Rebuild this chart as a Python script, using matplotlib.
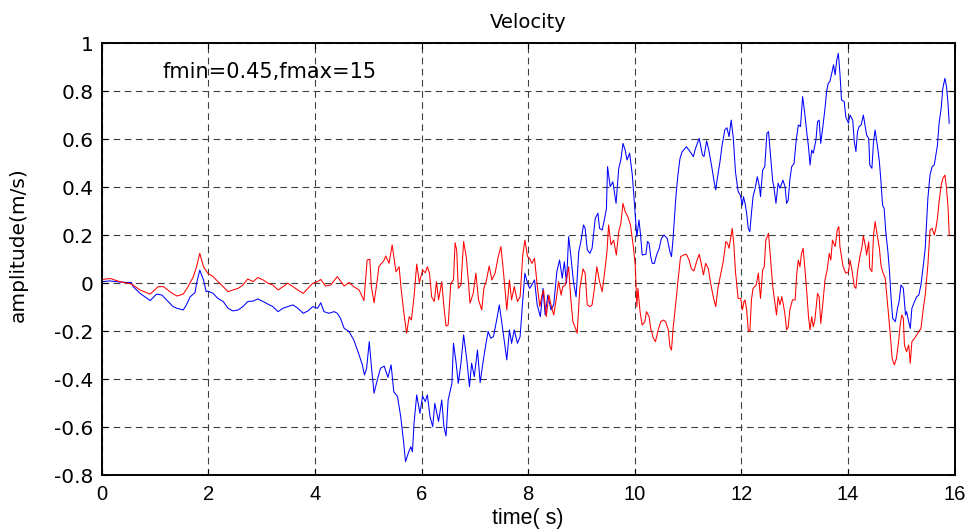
import matplotlib
matplotlib.use("Agg")
import matplotlib.pyplot as plt

# blue trace (time in s, amplitude in m/s)
t_blue = [0.0, 0.02, 0.15, 0.35, 0.56, 0.59, 0.72, 0.91, 1.03, 1.13, 1.22, 1.34, 1.41, 1.53, 1.59, 1.66, 1.75, 1.78, 1.84, 1.91, 1.96,
          1.99, 2.09, 2.18, 2.28, 2.37, 2.46, 2.56, 2.65, 2.74, 2.84, 2.93, 3.03, 3.12, 3.21, 3.31, 3.40, 3.49, 3.59, 3.68, 3.78, 3.87, 3.96,
          4.05, 4.11, 4.17, 4.26, 4.36, 4.42, 4.48, 4.55, 4.64, 4.73, 4.83, 4.89, 4.93, 4.97, 5.02, 5.06, 5.11, 5.17, 5.23, 5.30, 5.37, 5.43,
          5.48, 5.55, 5.61, 5.66, 5.70, 5.75, 5.80, 5.83, 5.86, 5.91, 5.97,
          6.02, 6.07, 6.11, 6.16, 6.21, 6.25, 6.32, 6.38, 6.42, 6.46, 6.50, 6.57, 6.60, 6.65, 6.69, 6.74, 6.79, 6.85, 6.90, 6.94, 6.99, 7.05,
          7.10, 7.16, 7.21, 7.25, 7.30, 7.35, 7.41, 7.46, 7.50, 7.55, 7.60, 7.65, 7.69, 7.74, 7.80, 7.85, 7.90, 7.94, 7.99,
          8.03, 8.07, 8.12, 8.17, 8.23, 8.28, 8.32, 8.37, 8.43, 8.48, 8.54, 8.59, 8.64, 8.68, 8.72, 8.76, 8.80, 8.85, 8.90, 8.95, 8.99, 9.04,
          9.07, 9.11, 9.16, 9.20, 9.26, 9.31, 9.34, 9.39, 9.43, 9.47, 9.49, 9.54, 9.59, 9.65, 9.70, 9.74, 9.78, 9.82, 9.855, 9.905, 9.955,
          9.99, 10.04,
          10.08, 10.11, 10.14, 10.21, 10.24, 10.27, 10.30, 10.33, 10.37, 10.41, 10.46, 10.50, 10.55, 10.61, 10.66, 10.69, 10.72, 10.77, 10.81,
          10.85, 10.89, 10.97, 11.04, 11.10, 11.14, 11.21, 11.24, 11.27, 11.30, 11.35, 11.39, 11.44, 11.49, 11.52, 11.55, 11.60, 11.64, 11.69,
          11.73, 11.77, 11.81, 11.85, 11.89, 11.94, 11.98, 12.02,
          12.04, 12.07, 12.10, 12.13, 12.16, 12.19, 12.22, 12.26, 12.30, 12.34, 12.36, 12.40, 12.44, 12.48, 12.51, 12.54, 12.59, 12.61, 12.65, 12.69,
          12.725, 12.78, 12.82, 12.85, 12.88, 12.91, 12.945, 12.99, 13.03, 13.07, 13.11, 13.15, 13.19, 13.23, 13.26, 13.29, 13.32, 13.35, 13.40,
          13.43, 13.46, 13.49, 13.53, 13.57, 13.60, 13.63, 13.66, 13.69, 13.73, 13.76, 13.79, 13.82, 13.85, 13.88, 13.93, 13.96, 14.01, 14.04,
          14.09, 14.12, 14.15, 14.18, 14.21, 14.25, 14.29, 14.33, 14.35, 14.39, 14.41, 14.45, 14.48, 14.51, 14.56, 14.59, 14.62, 14.65, 14.68,
          14.71, 14.75, 14.78, 14.81, 14.84, 14.89, 14.93, 14.96, 14.995, 15.04, 15.08, 15.10, 15.14, 15.17, 15.20, 15.25, 15.29, 15.33, 15.37,
          15.415, 15.45, 15.50, 15.54, 15.58, 15.62, 15.65, 15.68, 15.71, 15.75, 15.78, 15.82, 15.85, 15.88, 15.90]
v_blue = [0.01, 0.007, 0.01, 0.005, 0.003, -0.014, -0.042, -0.072, -0.045, -0.049, -0.07, -0.097, -0.104, -0.111, -0.09, -0.056, -0.039, 0.0, 0.055, 0.014, -0.035,
          -0.032, -0.042, -0.063, -0.076, -0.104, -0.115, -0.111, -0.097, -0.076, -0.074, -0.065, -0.076, -0.087, -0.097, -0.118, -0.104, -0.097, -0.09, -0.104, -0.125, -0.115, -0.097,
          -0.104, -0.081, -0.118, -0.125, -0.118, -0.125, -0.146, -0.188, -0.201, -0.236, -0.299, -0.340, -0.382, -0.354, -0.243, -0.347, -0.458, -0.403, -0.354, -0.345, -0.392, -0.340,
          -0.452, -0.472, -0.556, -0.653, -0.743, -0.709, -0.681, -0.702, -0.583, -0.465, -0.542,
          -0.47, -0.493, -0.465, -0.556, -0.597, -0.500, -0.576, -0.486, -0.597, -0.636, -0.486, -0.417, -0.250, -0.333, -0.417, -0.333, -0.215, -0.319, -0.431, -0.333, -0.389, -0.278,
          -0.414, -0.319, -0.250, -0.201, -0.229, -0.222, -0.153, -0.090, -0.153, -0.236, -0.319, -0.194, -0.250, -0.194, -0.250, -0.222, -0.069, 0.042, 0.0,
          -0.021, -0.007, 0.014, -0.090, -0.139, -0.021, -0.132, -0.049, -0.111, -0.090, 0.049, 0.097, 0.021, 0.090, 0.0, 0.194, 0.118, 0.007, -0.056, 0.132, 0.174, 0.243,
          0.229, 0.139, 0.125, 0.146, 0.271, 0.292, 0.229, 0.222, 0.264, 0.312, 0.486, 0.403, 0.423, 0.333, 0.479, 0.514, 0.583, 0.556, 0.514, 0.542, 0.451,
          0.347, 0.194,
          0.264, 0.201, 0.118, 0.121, 0.174, 0.167, 0.111, 0.083, 0.083, 0.118, 0.146, 0.187, 0.201, 0.187, 0.132, 0.111, 0.187, 0.354, 0.451,
          0.521, 0.548, 0.569, 0.548, 0.528, 0.562, 0.604, 0.569, 0.535, 0.528, 0.593, 0.555, 0.493, 0.423, 0.389, 0.437, 0.507, 0.576, 0.639,
          0.648, 0.611, 0.680, 0.604, 0.465, 0.382, 0.368, 0.326,
          0.361, 0.333, 0.292, 0.229, 0.215, 0.292, 0.361, 0.396, 0.444, 0.403, 0.361, 0.472, 0.486, 0.625, 0.632, 0.555, 0.424, 0.403, 0.333, 0.417,
          0.396, 0.430, 0.403, 0.333, 0.347, 0.430, 0.486, 0.500, 0.597, 0.660, 0.653, 0.778, 0.708, 0.625, 0.569, 0.493, 0.555, 0.542, 0.597,
          0.673, 0.680, 0.583, 0.653, 0.729, 0.799, 0.833, 0.840, 0.868, 0.910, 0.868, 0.930, 0.958, 0.875, 0.764, 0.757, 0.694, 0.667, 0.701,
          0.680, 0.590, 0.549, 0.632, 0.653, 0.660, 0.701, 0.646, 0.618, 0.604, 0.493, 0.479, 0.590, 0.639, 0.562, 0.507, 0.424, 0.326, 0.312,
          0.215, 0.132, 0.049, -0.063, -0.146, -0.160, -0.104, -0.076, -0.007, -0.021, -0.132, -0.118, -0.160, -0.188, -0.104, -0.076, -0.056, -0.049, -0.007,
          0.076, 0.146, 0.354, 0.451, 0.486, 0.493, 0.535, 0.576, 0.667, 0.729, 0.812, 0.854, 0.819, 0.743, 0.667]

# red trace
t_red = [0.0, 0.02, 0.16, 0.34, 0.56, 0.72, 0.91, 1.06, 1.16, 1.28, 1.41, 1.53, 1.62, 1.72, 1.78, 1.84, 1.91,
         1.99, 2.09, 2.18, 2.28, 2.37, 2.46, 2.56, 2.65, 2.74, 2.84, 2.93, 3.03, 3.12, 3.21, 3.31, 3.40, 3.49, 3.59, 3.68, 3.78, 3.87, 3.96,
         4.05, 4.11, 4.20, 4.30, 4.42, 4.55, 4.64, 4.73, 4.83, 4.92, 4.98, 5.03, 5.06, 5.11, 5.17, 5.20, 5.30, 5.33, 5.39, 5.45, 5.52, 5.58,
         5.62, 5.67, 5.72, 5.77, 5.81, 5.86, 5.91, 5.96,
         6.02, 6.07, 6.11, 6.15, 6.19, 6.24, 6.28, 6.32, 6.38, 6.42, 6.46, 6.50, 6.55, 6.60, 6.63, 6.66, 6.69, 6.74, 6.79, 6.84, 6.88, 6.91,
         6.97, 7.02, 7.07, 7.13, 7.17, 7.22, 7.27, 7.32, 7.38, 7.44, 7.49, 7.54, 7.60, 7.65, 7.69, 7.74, 7.80, 7.85, 7.90, 7.94, 7.99,
         8.03, 8.07, 8.12, 8.17, 8.22, 8.26, 8.29, 8.34, 8.39, 8.43, 8.48, 8.53, 8.57, 8.62, 8.65, 8.70, 8.76, 8.80, 8.84, 8.89, 8.92, 8.97,
         9.03, 9.07, 9.11, 9.16, 9.20, 9.24, 9.29, 9.34, 9.39, 9.43, 9.48, 9.51, 9.555, 9.605, 9.655, 9.70, 9.74, 9.78, 9.82, 9.87, 9.92,
         9.97, 10.01, 10.04,
         10.06, 10.10, 10.14, 10.19, 10.22, 10.27, 10.30, 10.35, 10.39, 10.44, 10.49, 10.54, 10.58, 10.63, 10.66, 10.69, 10.72, 10.77, 10.81,
         10.86, 10.92, 10.97, 11.02, 11.06, 11.11, 11.16, 11.21, 11.24, 11.29, 11.33, 11.38, 11.43, 11.48, 11.52, 11.56, 11.61, 11.66, 11.71,
         11.74, 11.77, 11.80, 11.83, 11.86, 11.89, 11.94, 11.99, 12.02, 12.05,
         12.07, 12.10, 12.13, 12.16, 12.19, 12.22, 12.28, 12.32, 12.36, 12.40, 12.43, 12.46, 12.51, 12.55, 12.59, 12.63, 12.66, 12.69, 12.725,
         12.76, 12.79, 12.82, 12.85, 12.88, 12.91, 12.96, 13.01, 13.04, 13.07, 13.10, 13.13, 13.16, 13.19, 13.23, 13.26, 13.29, 13.32, 13.35,
         13.38, 13.43, 13.46, 13.49, 13.53, 13.57, 13.61, 13.65, 13.68, 13.71, 13.76, 13.80, 13.83, 13.85, 13.88, 13.91, 13.96, 14.01, 14.04,
         14.08, 14.12, 14.15, 14.18, 14.23, 14.26, 14.29, 14.33, 14.35, 14.39, 14.41, 14.45, 14.48, 14.51, 14.56, 14.59, 14.62, 14.65, 14.70,
         14.75, 14.79, 14.83, 14.87, 14.91, 14.95, 14.98, 15.01, 15.04, 15.06, 15.10, 15.14, 15.17, 15.20, 15.25, 15.29, 15.33, 15.37, 15.415,
         15.45, 15.50, 15.54, 15.58, 15.62, 15.65, 15.68, 15.71, 15.75, 15.78, 15.82, 15.85, 15.88, 15.90]
v_red = [0.015, 0.016, 0.02, 0.007, -0.003, -0.028, -0.045, -0.014, -0.014, -0.035, -0.053, -0.045, -0.014, 0.028, 0.069, 0.125, 0.069,
         0.042, 0.028, 0.007, -0.014, -0.035, -0.028, -0.021, -0.007, 0.018, 0.007, 0.024, 0.014, 0.0, -0.007, -0.028, -0.014, 0.0, -0.014, -0.028, -0.042, -0.021, 0.0,
         0.007, 0.016, -0.011, -0.007, 0.028, -0.011, 0.003, -0.014, -0.028, -0.072, 0.097, 0.100, -0.014, -0.081, 0.014, 0.069, 0.097, 0.114, 0.083, 0.160, 0.048, 0.069,
         -0.028, -0.125, -0.208, -0.139, -0.153, -0.056, 0.08, 0.003,
         0.055, 0.044, 0.069, 0.042, -0.056, -0.076, 0.007, -0.069, 0.007, -0.097, -0.178, -0.174, 0.0, 0.014, 0.169, 0.139, -0.021, -0.007, 0.174, 0.111, 0.007, -0.083,
         -0.042, 0.042, -0.069, -0.111, -0.021, 0.014, 0.072, 0.014, 0.042, 0.111, 0.153, 0.042, -0.111, 0.014, -0.069, -0.014, -0.076, -0.056, 0.118, 0.180, 0.111,
         0.104, 0.083, 0.104, -0.007, -0.097, -0.049, -0.028, -0.139, -0.049, -0.090, -0.132, -0.063, 0.007, -0.049, -0.014, -0.007, 0.069, -0.063, -0.160, -0.188, -0.208, -0.021,
         0.060, 0.042, -0.090, -0.097, -0.090, -0.028, 0.069, 0.007, -0.035, 0.035, 0.132, 0.243, 0.160, 0.180, 0.118, 0.215, 0.250, 0.333, 0.299, 0.278, 0.243,
         0.160, 0.076, -0.097,
         -0.021, -0.118, -0.174, -0.160, -0.118, -0.139, -0.188, -0.229, -0.243, -0.194, -0.160, -0.153, -0.160, -0.194, -0.264, -0.278, -0.188, -0.083, 0.007,
         0.111, 0.118, 0.121, 0.097, 0.062, 0.051, 0.090, 0.121, 0.090, 0.035, 0.083, 0.062, -0.007, -0.063, -0.097, -0.021, 0.035, 0.090, 0.174,
         0.167, 0.146, 0.187, 0.229, 0.160, 0.049, -0.063, -0.063, -0.111, -0.076,
         -0.069, -0.111, -0.194, -0.201, -0.069, -0.021, -0.007, 0.042, -0.063, 0.055, 0.069, 0.180, 0.208, 0.097, -0.014, -0.083, -0.132, -0.056, -0.090,
         -0.056, -0.090, -0.132, -0.194, -0.181, -0.111, -0.069, -0.069, 0.042, 0.097, 0.069, 0.125, 0.146, 0.069, -0.042, -0.139, -0.194, -0.139, -0.181,
         -0.153, -0.042, -0.056, -0.167, -0.083, 0.014, 0.055, 0.125, 0.097, 0.180, 0.153, 0.222, 0.236, 0.153, 0.111, 0.069, 0.042, 0.048, 0.097,
         0.049, -0.014, -0.021, 0.049, 0.118, 0.146, 0.198, 0.153, 0.118, 0.173, 0.062, 0.049, 0.201, 0.257, 0.187, 0.146, 0.076, 0.049, 0.021,
         -0.104, -0.201, -0.313, -0.340, -0.313, -0.243, -0.174, -0.132, -0.146, -0.257, -0.285, -0.257, -0.333, -0.243, -0.229, -0.215, -0.201, -0.188, -0.104,
         -0.049, 0.076, 0.222, 0.229, 0.201, 0.229, 0.271, 0.340, 0.409, 0.437, 0.451, 0.396, 0.312, 0.201]

xticks = [0, 2, 4, 6, 8, 10, 12, 14, 16]
yticks = [-0.8, -0.6, -0.4, -0.2, 0, 0.2, 0.4, 0.6, 0.8, 1]
ytick_labels = ["-0.8", "-0.6", "-0.4", "-0.2", "0", "0.2", "0.4", "0.6", "0.8", "1"]

wide = ['DejaVu Sans']
narrow = ['Liberation Sans Narrow', 'Liberation Sans', 'DejaVu Sans']
plt.rcParams['font.family'] = wide

fig = plt.figure(figsize=(9.75, 5.3), dpi=100)
ax = fig.add_axes([0.1043, 0.1032, 0.8747, 0.8151])

ax.plot(t_blue, v_blue, color='#0000ff', linewidth=0.75)
ax.plot(t_red, v_red, color='#ff0000', linewidth=0.75)

ax.set_xlim(0, 16)
ax.set_ylim(-0.8, 1)
ax.set_xticks(xticks)
ax.set_xticklabels([str(v) for v in xticks], family=narrow, fontsize=14.5)
ax.set_yticks(yticks)
ax.set_yticklabels(ytick_labels, fontsize=14.5)
ax.tick_params(axis='both', direction='in', top=True, right=True, length=4, width=0.8)
ax.tick_params(axis='x', pad=7)
ax.tick_params(axis='y', pad=6)
ax.grid(True, color='#404040', linestyle=(0, (6, 4)), linewidth=0.8)
for s in ax.spines.values():
    s.set_linewidth(1.4)

ax.text(0.5, 1.047, "Velocity", transform=ax.transAxes, ha='center', va='center', fontsize=14)
ax.set_xlabel("time( s)", family=narrow, fontsize=15.5, va='center')
ax.xaxis.set_label_coords(0.5, -0.099)
ax.set_ylabel("amplitude(m/s)", fontsize=14.5, va='center')
ax.yaxis.set_label_coords(-0.098, 0.535)
ax.text(1.15, 0.88, "fmin=0.45,fmax=15", fontsize=15, va='center')

fig.savefig("out.png", dpi=100)
